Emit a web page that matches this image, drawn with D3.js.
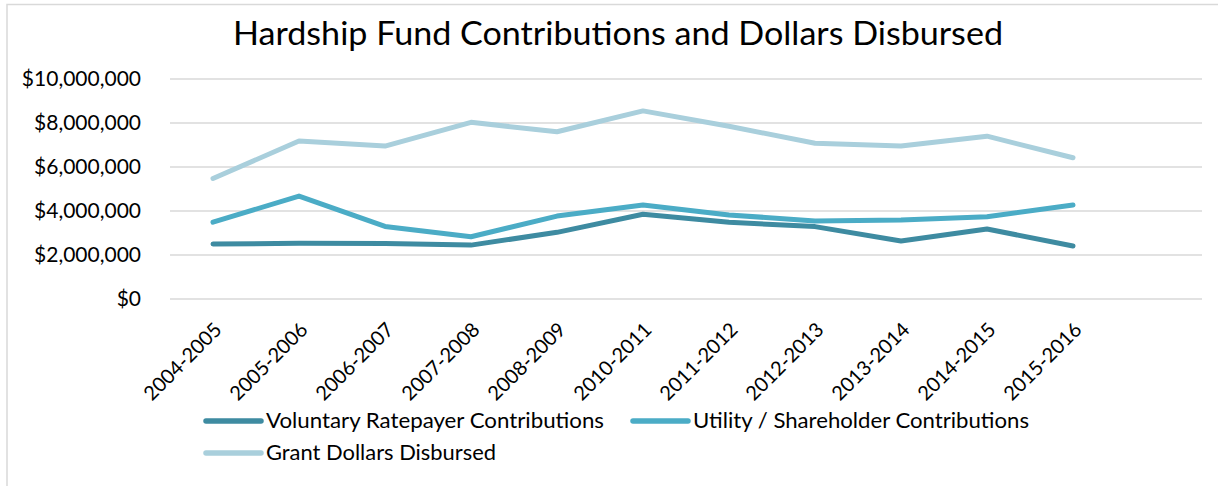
<!DOCTYPE html>
<html>
<head>
<meta charset="utf-8">
<script src="https://cdn.jsdelivr.net/npm/d3@7"></script>
<style>
  html, body { margin: 0; padding: 0; background: #fff; }
  svg { display: block; font-family: Lato, 'Open Sans', sans-serif; }
</style>
</head>
<body>
<svg id="chart" width="1218" height="486"></svg>
<script>
// ── données ───────────────────────────────────────────────────
const years = ['2004-2005', '2005-2006', '2006-2007', '2007-2008', '2008-2009', '2010-2011',
               '2011-2012', '2012-2013', '2013-2014', '2014-2015', '2015-2016'];
const voluntary = [2500000, 2530000, 2520000, 2450000, 3030000, 3850000,
                   3490000, 3290000, 2640000, 3180000, 2410000];
const utility   = [3490000, 4680000, 3300000, 2830000, 3770000, 4270000,
                   3820000, 3550000, 3590000, 3740000, 4270000];
const grant     = [5480000, 7180000, 6950000, 8030000, 7600000, 8550000,
                   7850000, 7080000, 6950000, 7400000, 6420000];
const yTicks = [0, 2000000, 4000000, 6000000, 8000000, 10000000];
const seriesNames = ['Voluntary Ratepayer Contributions', 'Utility / Shareholder Contributions', 'Grant Dollars Disbursed'];

const series = [
  { name: seriesNames[0], values: voluntary, color: '#3e8ba1' },
  { name: seriesNames[1], values: utility,   color: '#4bacc6' },
  { name: seriesNames[2], values: grant,     color: '#a9cfdc' }
];

const svg = d3.select('#chart');
const W = 1218, H = 486;

// cadre (coupé à droite et en bas comme dans l'original)
svg.append('path')
  .attr('d', `M7,${H + 2} V4.5 H${W + 2}`)
  .attr('fill', 'none').attr('stroke', '#d9d9d9').attr('stroke-width', 1.5);

// titre
svg.append('text')
  .attr('x', 618).attr('y', 45)
  .attr('text-anchor', 'middle')
  .attr('font-size', 33).attr('fill', '#000')
  .attr('textLength', 770).attr('lengthAdjust', 'spacingAndGlyphs')
  .text('Hardship Fund Contributions and Dollars Disbursed');

// échelles : 12 catégories, la dernière vide
const x = d3.scaleBand().domain([...years, '']).range([170, 1202]);
const y = d3.scaleLinear().domain([0, 10000000]).range([299, 79]);
const cx = d => x(d) + x.bandwidth() / 2;

// grille horizontale
svg.append('g')
  .selectAll('line').data(yTicks).enter().append('line')
  .attr('x1', 170).attr('x2', 1202)
  .attr('y1', d => y(d)).attr('y2', d => y(d))
  .attr('stroke', '#d9d9d9').attr('stroke-width', 1.5);

// axe Y
const yAxis = svg.append('g').attr('transform', 'translate(141,0)')
  .call(d3.axisLeft(y).tickValues(yTicks).tickSize(0).tickPadding(0)
    .tickFormat(d => '$' + d3.format(',')(d)));
yAxis.select('.domain').remove();
yAxis.selectAll('text')
  .attr('font-size', 21).attr('font-family', 'Lato, sans-serif').attr('fill', '#000');

// axe X (étiquettes à -45°, ancrées sur le point du tick)
const xAxis = svg.append('g').attr('transform', 'translate(5,326)')
  .call(d3.axisBottom(x).tickSize(0).tickPadding(0));
xAxis.select('.domain').remove();
xAxis.selectAll('.tick text')
  .attr('font-size', 20).attr('font-family', 'Lato, sans-serif').attr('fill', '#000')
  .attr('text-anchor', 'end')
  .attr('x', 0).attr('y', 0).attr('dy', '0.35em')
  .attr('transform', 'rotate(-45)');

// lignes
const line = d3.line()
  .x((d, i) => cx(years[i]))
  .y(d => y(d));

svg.append('g').selectAll('path').data(series).enter().append('path')
  .attr('d', d => line(d.values))
  .attr('fill', 'none')
  .attr('stroke', d => d.color)
  .attr('stroke-width', 5)
  .attr('stroke-linecap', 'round')
  .attr('stroke-linejoin', 'round');

// légende
const legendPos = [
  { x: 206, y: 421, w: 338 },
  { x: 633, y: 421, w: 336 },
  { x: 206, y: 453, w: 230 }
];
const lg = svg.append('g').selectAll('g').data(series).enter().append('g')
  .attr('transform', (d, i) => `translate(${legendPos[i].x},${legendPos[i].y})`);
lg.append('line')
  .attr('x1', 0).attr('x2', 55).attr('y1', 0).attr('y2', 0)
  .attr('stroke', d => d.color).attr('stroke-width', 5.5).attr('stroke-linecap', 'round');
lg.append('text')
  .attr('x', 60).attr('y', 0).attr('dy', '0.35em')
  .attr('font-size', 21).attr('fill', '#000')
  .attr('textLength', (d, i) => legendPos[i].w).attr('lengthAdjust', 'spacingAndGlyphs')
  .text(d => d.name);
</script>
</body>
</html>
